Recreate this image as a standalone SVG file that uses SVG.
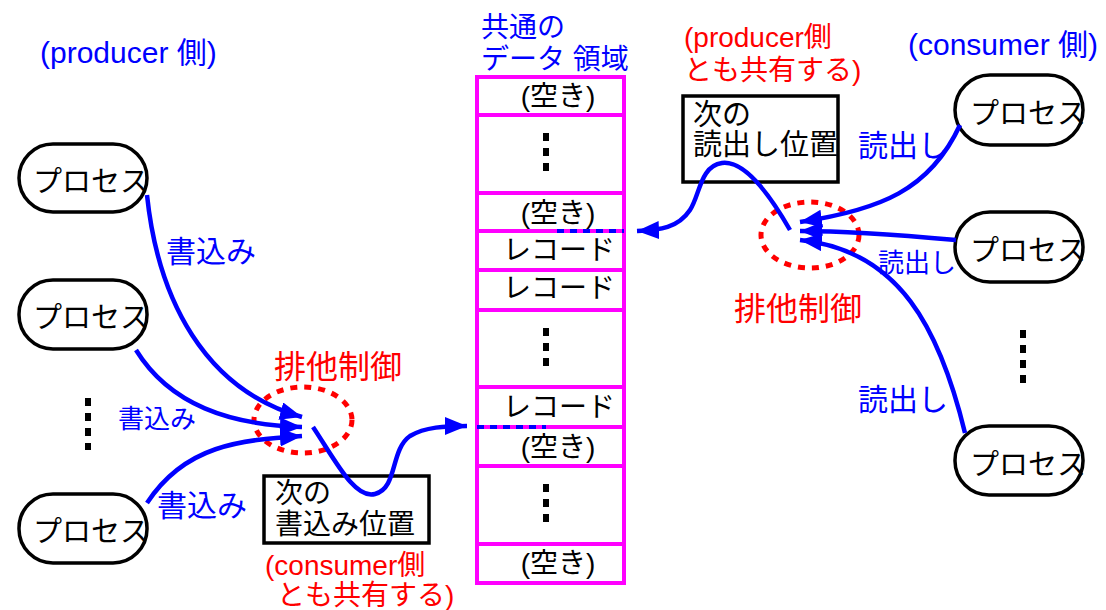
<svg xmlns="http://www.w3.org/2000/svg" width="1106" height="610" viewBox="0 0 1106 610">
<defs>
<marker id="ah" markerUnits="userSpaceOnUse" markerWidth="24" markerHeight="20" refX="22" refY="9" orient="auto">
<path d="M0,0 L22,9 L0,18 Z" fill="#0000ff"/>
</marker>
<style>
text{font-family:"Liberation Sans","Noto Sans CJK JP",sans-serif;}
.node{fill:#fff;stroke:#000;stroke-width:3.5;}
.nt{font-size:29px;fill:#000;}
.blue{fill:#0000ff;}
.red{fill:#ff0000;}
.blk{fill:#000;}
.cell{fill:#fff;stroke:#ff00ff;stroke-width:4;}
.ct{font-size:28px;fill:#000;}
.conn{fill:none;stroke:#0000ff;stroke-width:4.5;}
.dotv{stroke:#000;stroke-width:6;stroke-dasharray:8,7;}
.mutex{fill:none;stroke:#ff0000;stroke-width:5;stroke-dasharray:7,7;}
.box{fill:#fff;stroke:#000;stroke-width:3.5;}
</style>
</defs>

<!-- labels -->
<text x="40" y="63" class="blue" font-size="30">(producer 側)</text>
<text x="908" y="55" class="blue" font-size="30">(consumer 側)</text>
<text x="481" y="37" class="blue" font-size="28">共通の</text>
<text x="481" y="69" class="blue" font-size="28">データ 領域</text>
<text x="684" y="47" class="red" font-size="28">(producer側</text>
<text x="684" y="80" class="red" font-size="28">とも共有する)</text>
<text x="265" y="575" class="red" font-size="28">(consumer側</text>
<text x="277" y="605" class="red" font-size="28">とも共有する)</text>
<text x="274" y="378" class="red" font-size="32">排他制御</text>
<text x="734" y="320" class="red" font-size="32">排他制御</text>

<!-- left processes -->
<g id="p1"><rect x="19" y="144" width="128" height="68" rx="34" class="node"/><text x="33" y="192" class="nt">プロセス</text></g>
<g id="p2"><rect x="19" y="280" width="128" height="69" rx="34" class="node"/><text x="33" y="328" class="nt">プロセス</text></g>
<g id="p3"><rect x="19" y="494" width="128" height="69" rx="34" class="node"/><text x="33" y="542" class="nt">プロセス</text></g>
<line x1="88" y1="398" x2="88" y2="450" class="dotv"/>

<!-- right processes -->
<g id="r1"><rect x="955" y="75" width="128" height="70" rx="35" class="node"/><text x="970" y="124" class="nt">プロセス</text></g>
<g id="r2"><rect x="955" y="212" width="128" height="70" rx="35" class="node"/><text x="970" y="261" class="nt">プロセス</text></g>
<g id="r3"><rect x="955" y="426" width="128" height="69" rx="34" class="node"/><text x="970" y="475" class="nt">プロセス</text></g>
<line x1="1023" y1="330" x2="1023" y2="384" class="dotv"/>

<!-- data area -->
<g id="data">
<rect x="477" y="77" width="147" height="38" class="cell"/>
<rect x="477" y="115" width="147" height="78" class="cell"/>
<rect x="477" y="193" width="147" height="38" class="cell"/>
<rect x="477" y="231" width="147" height="39" class="cell"/>
<rect x="477" y="270" width="147" height="40" class="cell"/>
<rect x="477" y="310" width="147" height="77" class="cell"/>
<rect x="477" y="387" width="147" height="40" class="cell"/>
<rect x="477" y="427" width="147" height="39" class="cell"/>
<rect x="477" y="466" width="147" height="78" class="cell"/>
<rect x="477" y="544" width="147" height="39" class="cell"/>
<text x="558" y="106" class="ct" text-anchor="middle">(空き)</text>
<text x="558" y="223" class="ct" text-anchor="middle">(空き)</text>
<text x="503" y="260" class="ct">レコード</text>
<text x="503" y="298" class="ct">レコード</text>
<text x="503" y="417" class="ct">レコード</text>
<text x="558" y="457" class="ct" text-anchor="middle">(空き)</text>
<text x="558" y="573" class="ct" text-anchor="middle">(空き)</text>
<line x1="546" y1="133" x2="546" y2="175" class="dotv"/>
<line x1="546" y1="328" x2="546" y2="370" class="dotv"/>
<line x1="546" y1="484" x2="546" y2="526" class="dotv"/>
</g>

<!-- pointer boxes -->
<g id="wbox"><rect x="264" y="476" width="165" height="67" class="box"/>
<text x="275" y="503" class="blk" font-size="28">次の</text>
<text x="275" y="534" class="blk" font-size="28">書込み位置</text></g>
<g id="rbox"><rect x="683" y="96" width="155" height="86" class="box"/>
<text x="693" y="125" class="blk" font-size="29">次の</text>
<text x="693" y="155" class="blk" font-size="29">読出し位置</text></g>

<!-- mutex -->
<ellipse cx="303" cy="420" rx="49" ry="33" class="mutex"/>
<ellipse cx="810" cy="235" rx="49" ry="33" class="mutex"/>

<!-- connectors -->
<g id="connectors">
<path d="M147,195 C158,300 205,390 302,417" class="conn" marker-end="url(#ah)"/>
<path d="M136,350 C170,405 230,425 302,427" class="conn" marker-end="url(#ah)"/>
<path d="M147,503 C185,445 240,440 302,436" class="conn" marker-end="url(#ah)"/>
<path d="M313,427 C335,460 355,500 375,494 C398,488 390,450 410,436 C425,427 445,426 467,426" class="conn" marker-end="url(#ah)"/>
<line x1="557" y1="231" x2="624" y2="231" stroke="#0000ff" stroke-width="4" stroke-dasharray="7,6"/>
<line x1="477" y1="427" x2="546" y2="427" stroke="#0000ff" stroke-width="4" stroke-dasharray="7,6"/>
<path d="M790,230 C770,195 745,160 722,163 C700,166 700,195 690,210 C678,228 660,230 637,231" class="conn" marker-end="url(#ah)"/>
<path d="M960,125 C930,190 880,210 800,222" class="conn" marker-end="url(#ah)"/>
<path d="M956,240 C900,235 850,231 800,231" class="conn" marker-end="url(#ah)"/>
<path d="M965,433 C940,330 900,250 800,240" class="conn" marker-end="url(#ah)"/>
<text x="166" y="262" class="blue" font-size="30">書込み</text>
<text x="118" y="428" class="blue" font-size="26">書込み</text>
<text x="157" y="516" class="blue" font-size="30">書込み</text>
<text x="858" y="156" class="blue" font-size="30">読出し</text>
<text x="878" y="272" class="blue" font-size="26">読出し</text>
<text x="858" y="410" class="blue" font-size="30">読出し</text>
</g>
</svg>
